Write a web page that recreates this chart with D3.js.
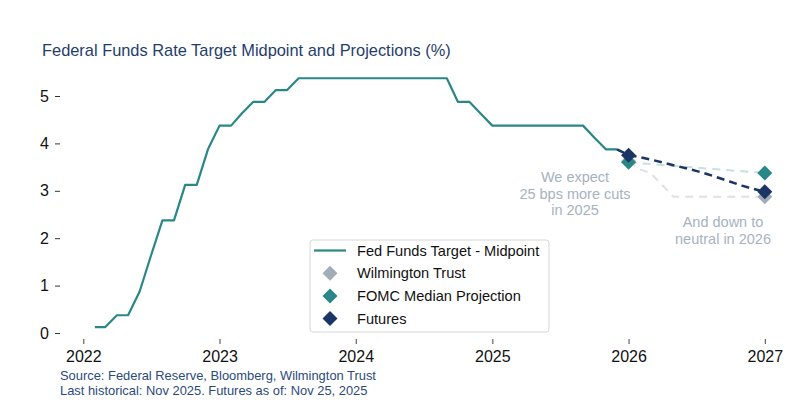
<!DOCTYPE html>
<html>
<head>
<meta charset="utf-8">
<script src="https://cdn.jsdelivr.net/npm/d3@7"></script>
<style>
  body { margin: 0; background: #fff; }
  svg { font-family: "Liberation Sans", Arial, sans-serif; }
</style>
</head>
<body>
<svg id="chart" width="797" height="402"></svg>
<script>
// historical fed funds target midpoint, monthly
const histMonths = ["2022-02","2022-03","2022-04","2022-05","2022-06","2022-07","2022-08","2022-09","2022-10","2022-11","2022-12",
  "2023-01","2023-02","2023-03","2023-04","2023-05","2023-06","2023-07","2023-08","2023-09","2023-10","2023-11","2023-12",
  "2024-01","2024-02","2024-03","2024-04","2024-05","2024-06","2024-07","2024-08","2024-09","2024-10","2024-11","2024-12",
  "2025-01","2025-02","2025-03","2025-04","2025-05","2025-06","2025-07","2025-08","2025-09","2025-10","2025-11","2025-12"];
const histValues = [0.125,0.125,0.375,0.375,0.875,1.625,2.375,2.375,3.125,3.125,3.875,
  4.375,4.375,4.625,4.875,4.875,5.125,5.125,5.375,5.375,5.375,5.375,5.375,
  5.375,5.375,5.375,5.375,5.375,5.375,5.375,5.375,5.375,4.875,4.875,4.625,
  4.375,4.375,4.375,4.375,4.375,4.375,4.375,4.375,4.375,4.125,3.875,3.875];

// projections
const futuresMonths = ["2025-12","2026-01","2026-02","2026-03","2026-04","2026-05","2026-06","2026-07","2026-08","2026-09","2026-10","2026-11","2026-12","2027-01"];
const futuresValues = [3.875,3.75,3.71,3.66,3.60,3.54,3.48,3.42,3.35,3.27,3.19,3.11,3.04,2.98];
const wilmMonths = ["2026-01","2026-02","2026-03","2026-04","2026-05","2026-08","2026-11","2027-01"];
const wilmValues = [3.625,3.45,3.375,3.125,2.875,2.875,2.875,2.875];
const fomcMonths = ["2026-01","2027-01"];
const fomcValues = [3.6,3.375];

// diamonds at year ends
const markerYears = ["2026-01","2027-01"];
const wilmMarkers = [3.625,2.875];
const fomcMarkers = [3.6,3.375];
const futuresMarkers = [3.75,2.98];

const yTicks = [0,1,2,3,4,5];
const xTickYears = [2022,2023,2024,2025,2026,2027];

const legendItems = [
  { label: "Fed Funds Target - Midpoint", type: "line", color: "#2a8787" },
  { label: "Wilmington Trust", type: "diamond", color: "#a3adb8" },
  { label: "FOMC Median Projection", type: "diamond", color: "#2a8787" },
  { label: "Futures", type: "diamond", color: "#1b3564" }
];

const parse = d3.timeParse("%Y-%m");
const svg = d3.select("#chart");

const x = d3.scaleTime()
  .domain([new Date(2022, 0, 1), new Date(2027, 0, 1)])
  .range([83.3, 764.8]);
const y = d3.scaleLinear()
  .domain([0, 5])
  .range([333, 96]);

const pts = (months, vals) => months.map((m, i) => ({ date: parse(m), value: vals[i] }));
const line = d3.line().x(d => x(d.date)).y(d => y(d.value));

// title
svg.append("text")
  .attr("x", 42).attr("y", 56)
  .attr("fill", "#1f3d6d")
  .style("font-size", "16.4px")
  .text("Federal Funds Rate Target Midpoint and Projections (%)");

// y axis
const yAxis = svg.append("g")
  .attr("transform", "translate(60,0)")
  .call(d3.axisLeft(y).tickValues(yTicks).tickSize(5).tickPadding(6).tickFormat(d3.format("d")));
yAxis.select(".domain").remove();
yAxis.selectAll("text").style("font-size", "16px").attr("fill", "#111");
yAxis.selectAll("line").attr("stroke", "#333");

// x axis
const xAxis = svg.append("g")
  .attr("transform", "translate(0,339)")
  .call(d3.axisBottom(x).tickValues(xTickYears.map(yr => new Date(yr, 0, 1))).tickSize(5).tickPadding(7).tickFormat(d3.timeFormat("%Y")));
xAxis.select(".domain").remove();
xAxis.selectAll("text").style("font-size", "16px").attr("fill", "#111");
xAxis.selectAll("line").attr("stroke", "#444");

// projection dashed lines
svg.append("path")
  .datum(pts(wilmMonths, wilmValues))
  .attr("d", line)
  .attr("fill", "none")
  .attr("stroke", "#dde2e7")
  .attr("stroke-width", 2)
  .attr("stroke-dasharray", "8,6");
svg.append("path")
  .datum(pts(fomcMonths, fomcValues))
  .attr("d", line)
  .attr("fill", "none")
  .attr("stroke", "#c6e0df")
  .attr("stroke-width", 2)
  .attr("stroke-dasharray", "8,6");

// historical line
svg.append("path")
  .datum(pts(histMonths, histValues))
  .attr("d", line)
  .attr("fill", "none")
  .attr("stroke", "#2a8787")
  .attr("stroke-width", 2.2)
  .attr("stroke-linejoin", "round");

svg.append("path")
  .datum(pts(futuresMonths, futuresValues))
  .attr("d", line)
  .attr("fill", "none")
  .attr("stroke", "#1b3564")
  .attr("stroke-width", 2.5)
  .attr("stroke-dasharray", "8,5");

// diamonds
const diamond = d3.symbol().type(d3.symbolSquare).size(112);
const drawMarkers = (vals, color) => {
  svg.append("g").selectAll("path")
    .data(pts(markerYears, vals))
    .join("path")
    .attr("d", diamond)
    .attr("transform", d => `translate(${x(d.date)},${y(d.value)}) rotate(45)`)
    .attr("fill", color);
};
drawMarkers(wilmMarkers, "#a3adb8");
drawMarkers(fomcMarkers, "#2a8787");
drawMarkers(futuresMarkers, "#1b3564");

// annotations
const annot = (lines, cx, y0) => {
  lines.forEach((t, i) => {
    svg.append("text")
      .attr("x", cx).attr("y", y0 + i * 16.7)
      .attr("text-anchor", "middle")
      .attr("fill", "#a6b2bf")
      .style("font-size", "14.5px")
      .text(t);
  });
};
annot(["We expect", "25 bps more cuts", "in 2025"], 575, 182);
annot(["And down to", "neutral in 2026"], 723, 227);

// legend
const lg = svg.append("g");
lg.append("rect")
  .attr("x", 310).attr("y", 240)
  .attr("width", 239).attr("height", 92)
  .attr("rx", 3)
  .attr("fill", "#fff")
  .attr("stroke", "#d6d6d6");
legendItems.forEach((item, i) => {
  const cy = 250.5 + i * 22.7;
  if (item.type === "line") {
    lg.append("line")
      .attr("x1", 314).attr("x2", 346)
      .attr("y1", cy).attr("y2", cy)
      .attr("stroke", item.color)
      .attr("stroke-width", 2.2);
  } else {
    lg.append("path")
      .attr("d", diamond)
      .attr("transform", `translate(330,${cy}) rotate(45)`)
      .attr("fill", item.color);
  }
  lg.append("text")
    .attr("x", 357).attr("y", cy + 5)
    .attr("fill", "#111")
    .style("font-size", "14.6px")
    .text(item.label);
});

// source
svg.append("text")
  .attr("x", 60).attr("y", 380)
  .attr("fill", "#2b4a7c")
  .style("font-size", "12.9px")
  .text("Source: Federal Reserve, Bloomberg, Wilmington Trust");
svg.append("text")
  .attr("x", 60).attr("y", 395)
  .attr("fill", "#2b4a7c")
  .style("font-size", "12.9px")
  .text("Last historical: Nov 2025. Futures as of: Nov 25, 2025");
</script>
</body>
</html>
